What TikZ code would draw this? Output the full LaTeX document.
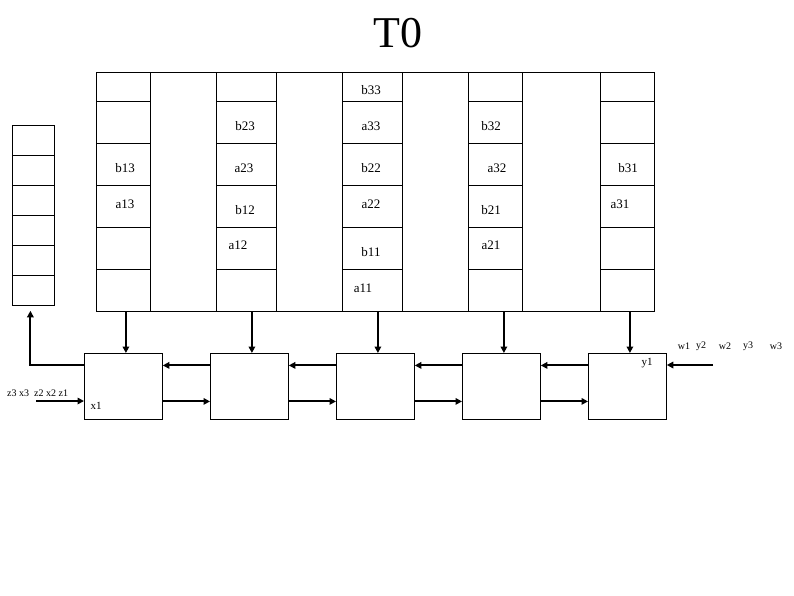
\documentclass[tikz,border=0pt]{standalone}
\usepackage{fontspec}
\setmainfont{Liberation Serif}
\usetikzlibrary{arrows.meta,calc}
\begin{document}
\begin{tikzpicture}[x=1pt,y=-1pt,
  frame/.style={draw,line width=0.8pt,inner sep=0pt,anchor=north west},
  box/.style={frame,minimum width=78pt,minimum height=66pt},
  arr/.style={line width=2pt,-{Triangle[length=6.5pt,width=6.5pt]}},
  lbl/.style={font=\fontsize{13}{13}\selectfont,inner sep=0pt},
  sml/.style={font=\fontsize{10}{10}\selectfont,inner sep=0pt}]
\useasboundingbox (0,0) rectangle (794,595);
\node[font=\fontsize{44}{44}\selectfont,inner sep=0pt] (title) at (398,33) {T0};
% grid
\node[frame,minimum width=558pt,minimum height=239pt] (grid) at (96,72) {};
\foreach \n/\x/\w in {1/96/54,2/216/60,3/342/60,4/468/54,5/600/54}{
  \node[frame,minimum width=\w pt,minimum height=239pt] (col\n) at (\x,72) {};
  \foreach \y in {101,143,185,227,269}
    \draw[line width=0.8pt] (\x,\y) -- ++(\w,0);
}
% cell labels
\node[lbl] (b13) at (125,168) {b13};
\node[lbl] (a13) at (125,204) {a13};
\node[lbl] (b23) at (245,126) {b23};
\node[lbl] (a23) at (244,168) {a23};
\node[lbl] (b12) at (245,210) {b12};
\node[lbl] (a12) at (238,245) {a12};
\node[lbl] (b33) at (371,90) {b33};
\node[lbl] (a33) at (371,126) {a33};
\node[lbl] (b22) at (371,168) {b22};
\node[lbl] (a22) at (371,204) {a22};
\node[lbl] (b11) at (371,252) {b11};
\node[lbl] (a11) at (363,288) {a11};
\node[lbl] (b32) at (491,126) {b32};
\node[lbl] (a32) at (497,168) {a32};
\node[lbl] (b21) at (491,210) {b21};
\node[lbl] (a21) at (491,245) {a21};
\node[lbl] (b31) at (628,168) {b31};
\node[lbl] (a31) at (620,204) {a31};
% left stack
\node[frame,minimum width=42pt,minimum height=180pt] (stack) at (12,125) {};
\foreach \y in {155,185,215,245,275}
  \draw[line width=0.8pt] (12,\y) -- ++(42,0);
% processing boxes
\foreach \k in {1,...,5}
  \node[box] (p\k) at ({84+126*(\k-1)},353) {};
\foreach \k in {1,...,5}
  \draw[arr] ([xshift=2.5pt]p\k.north |- grid.south) -- ([xshift=2.5pt]p\k.north);
\foreach \a/\b in {1/2,2/3,3/4,4/5}{
  \draw[arr] ([yshift=21pt]p\b.west) -- ([yshift=21pt]p\a.east);
  \draw[arr] ([yshift=-15pt]p\a.east) -- ([yshift=-15pt]p\b.west);
}
\draw[arr] ([yshift=21pt]p1.west) -| ([xshift=-3pt,yshift=-5pt]stack.south);
\coordinate (xin) at (36,401);
\coordinate (yin) at (713,365);
\draw[arr] (xin) -- (xin -| p1.west);
\draw[arr] (yin) -- (yin -| p5.east);
% stream labels
\node[sml,anchor=west] (xs) at (7,393) {z3 x3\hspace{5pt}z2 x2 z1};
\node[sml,font=\fontsize{11}{11}\selectfont] (x1) at (96,406) {x1};
\node[sml,font=\fontsize{11}{11}\selectfont] (y1) at (647,363) {y1};
\node[sml] (w1) at (684,346) {w1};
\node[sml] (y2) at (701,346) {y2};
\node[sml] (w2) at (725,346) {w2};
\node[sml] (y3) at (748,346) {y3};
\node[sml] (w3) at (776,346) {w3};
\end{tikzpicture}
\end{document}
